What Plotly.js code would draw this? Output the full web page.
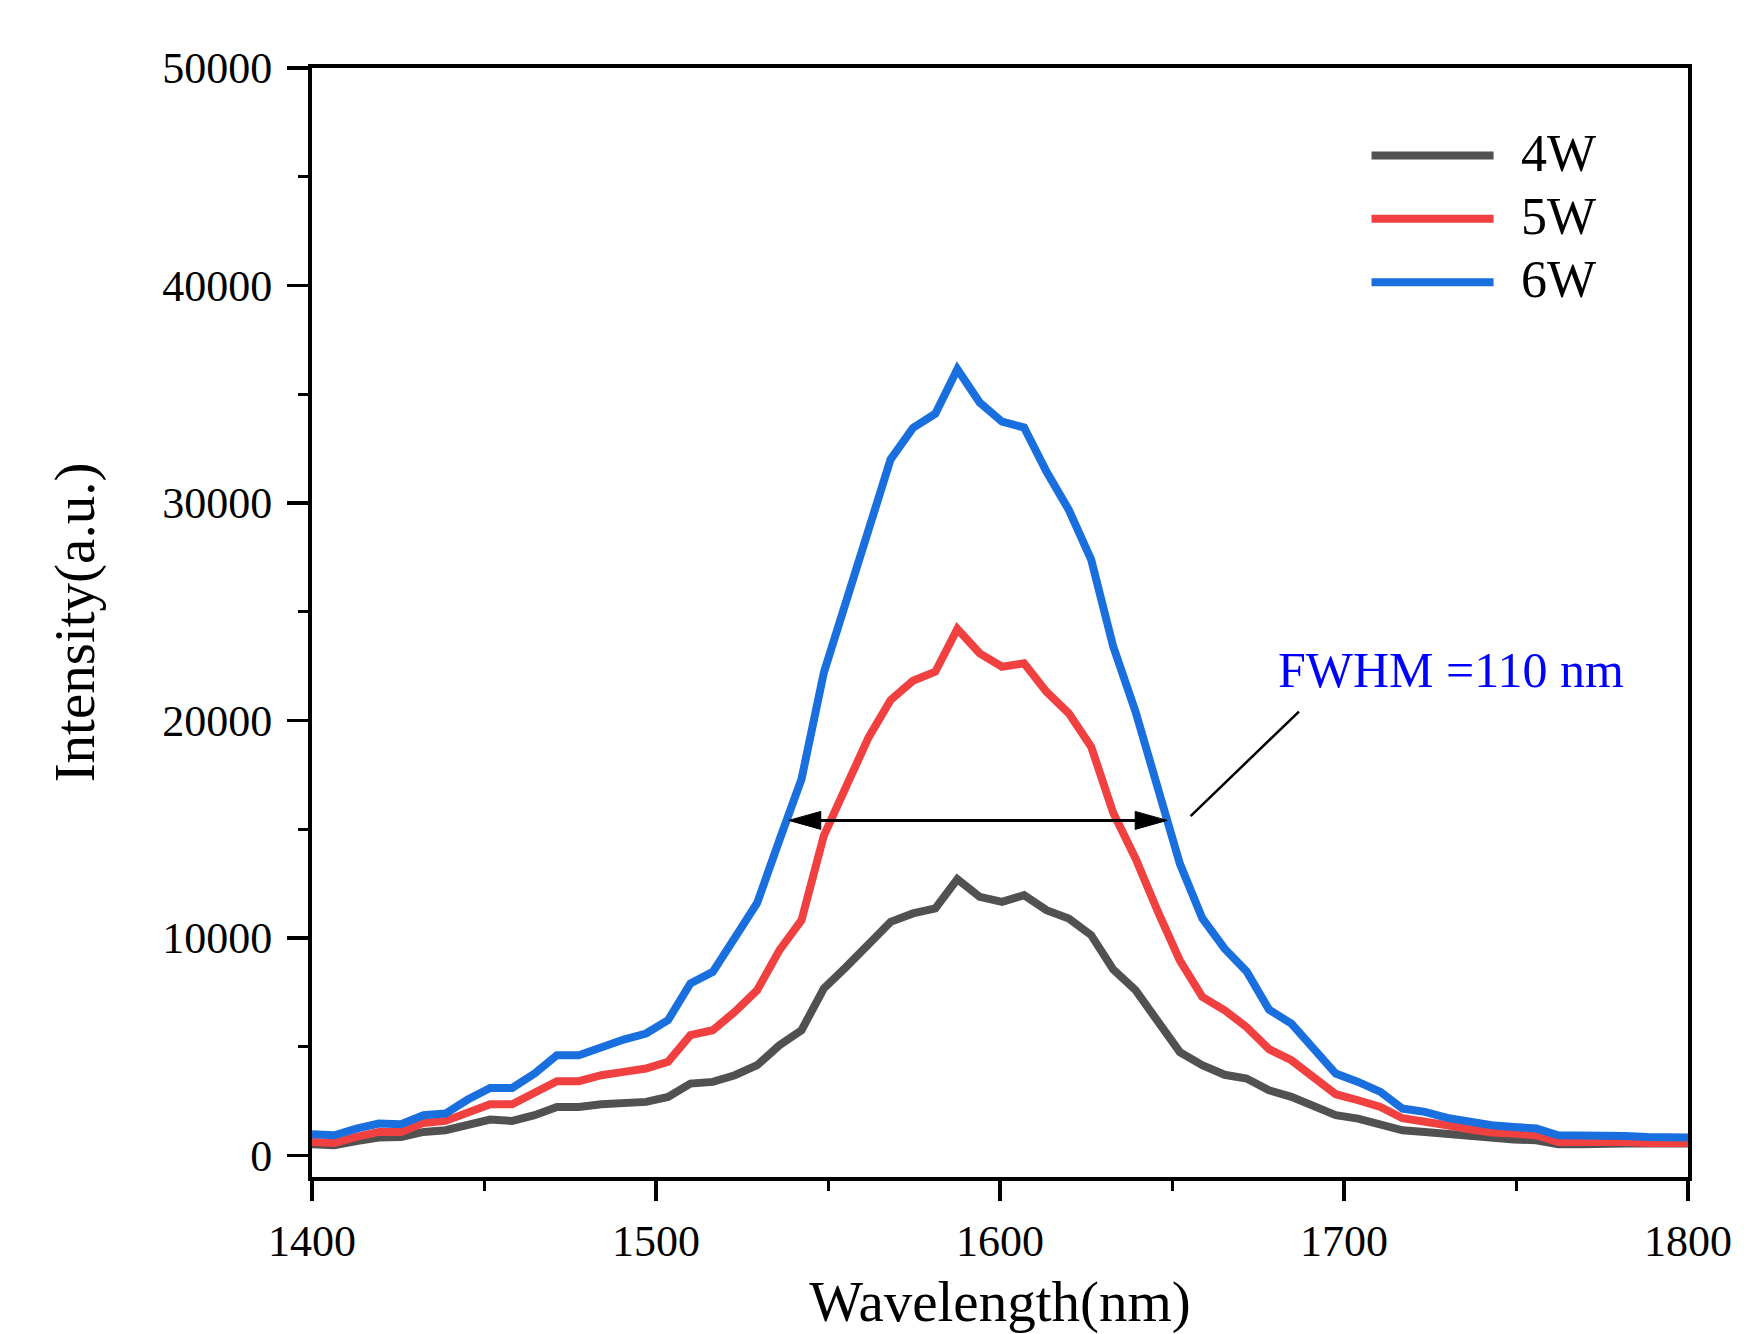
<!DOCTYPE html>
<html>
<head>
<meta charset="utf-8">
<script src="https://cdn.plot.ly/plotly-3.0.1.min.js"></script>
<style>
html, body { margin: 0; padding: 0; background: #ffffff; }
#chart { width: 1764px; height: 1334px; }
</style>
</head>
<body>
<div id="chart"></div>
<script>
// ---- data ----
const wavelength = [
  1400.0, 1406.5, 1412.9, 1419.4, 1425.9, 1432.4, 1438.8, 1445.3, 1451.8, 1458.2,
  1464.7, 1471.2, 1477.6, 1484.1, 1490.6, 1497.1, 1503.5, 1510.0, 1516.5, 1522.9,
  1529.4, 1535.9, 1542.3, 1548.8, 1555.3, 1561.8, 1568.2, 1574.7, 1581.2, 1587.6,
  1594.1, 1600.6, 1607.0, 1613.5, 1620.0, 1626.5, 1632.9, 1639.4, 1645.9, 1652.3,
  1658.8, 1665.3, 1671.7, 1678.2, 1684.7, 1691.2, 1697.6, 1704.1, 1710.6, 1717.0,
  1723.5, 1730.0, 1736.4, 1742.9, 1749.4, 1755.9, 1762.3, 1768.8, 1775.3, 1781.7,
  1788.2, 1794.7, 1800.0
];
const intensity4W = [
  506, 460, 658, 814, 843, 1073, 1150, 1426, 1641, 1580,
  1840, 2222, 2222, 2346, 2408, 2454, 2684, 3297, 3374, 3681,
  4141, 5061, 5751, 7670, 8663, 9662, 10734, 11120, 11350, 12700,
  11884, 11654, 11962, 11272, 10890, 10122, 8550, 7591, 6119, 4739,
  4141, 3700, 3529, 2991, 2684, 2300, 1840, 1688, 1458, 1150,
  1072, 966, 874, 768, 722, 690, 506, 506, 566, 538,
  538, 538, 538
];
const intensity5W = [
  613, 567, 843, 1073, 1073, 1488, 1580, 1994, 2346, 2346,
  2837, 3405, 3405, 3681, 3834, 3987, 4294, 5521, 5751, 6595,
  7592, 9432, 10812, 14700, 16964, 19218, 20934, 21822, 22237, 24200,
  23082, 22466, 22622, 21316, 20322, 18785, 15750, 13650, 11200, 8950,
  7283, 6671, 5889, 4877, 4371, 3589, 2807, 2530, 2222, 1702,
  1580, 1380, 1196, 1044, 998, 920, 612, 612, 690, 612,
  567, 567, 567
];
const intensity6W = [
  966, 920, 1227, 1457, 1426, 1840, 1917, 2562, 3097, 3097,
  3758, 4601, 4601, 4984, 5322, 5599, 6211, 7899, 8433, 10000,
  11600, 14500, 17300, 22200, 25500, 28800, 32000, 33450, 34100, 36150,
  34613, 33734, 33467, 31442, 29680, 27394, 23400, 20400, 16900, 13400,
  10900, 9500, 8450, 6702, 6050, 4950, 3758, 3374, 2914, 2147,
  1994, 1718, 1534, 1380, 1304, 1227, 920, 920, 966, 890,
  844, 830, 814
];
const seriesNames = ['4W', '5W', '6W'];
const seriesColors = ['#515151', '#F14040', '#1A6FDF'];
const xRange = [1400, 1800];
const yRange = [-1000, 50000];

// FWHM annotation (data units)
const fwhmLabel = 'FWHM =110 nm';
const fwhmY = 15400;
const fwhmLeft = 1538.6;
const fwhmRight = 1648.6;
const leaderStart = [1655.4, 15600];
const leaderEnd = [1686.9, 20400];
const fwhmTextPos = [1680.1, 22300];

// ---- build figure ----
const FONT = '"Liberation Serif", "DejaVu Serif", serif';
const seriesData = [intensity4W, intensity5W, intensity6W];

const traces = seriesData.map((ys, i) => ({
  type: 'scatter',
  mode: 'lines',
  x: wavelength,
  y: ys,
  name: seriesNames[i],
  line: { color: seriesColors[i], width: 8 },
  showlegend: false,
  hoverinfo: 'x+y+name'
}));

// custom legend (long line samples like the original)
const legendYs = [0.9211, 0.8641, 0.8069];
const legendShapes = seriesNames.map((n, i) => ({
  type: 'line', xref: 'paper', yref: 'paper',
  x0: 0.770, x1: 0.8587, y0: legendYs[i], y1: legendYs[i],
  line: { color: seriesColors[i], width: 8 }
}));
const legendTexts = seriesNames.map((n, i) => ({
  xref: 'paper', yref: 'paper', x: 0.8775, y: legendYs[i] + 0.002,
  xanchor: 'left', yanchor: 'middle', showarrow: false,
  text: n, font: { family: FONT, size: 52, color: '#000000' }
}));

const arrowShapes = [
  { type: 'line', xref: 'x', yref: 'y', x0: fwhmLeft + 5, x1: fwhmRight - 5, y0: fwhmY, y1: fwhmY,
    line: { color: '#000000', width: 3 } },
  { type: 'path', xref: 'x', yref: 'y', xsizemode: 'pixel', ysizemode: 'pixel',
    xanchor: fwhmLeft, yanchor: fwhmY, path: 'M0,0 L32,9 L32,-9 Z',
    fillcolor: '#000000', line: { color: '#000000', width: 1 } },
  { type: 'path', xref: 'x', yref: 'y', xsizemode: 'pixel', ysizemode: 'pixel',
    xanchor: fwhmRight, yanchor: fwhmY, path: 'M0,0 L-32,9 L-32,-9 Z',
    fillcolor: '#000000', line: { color: '#000000', width: 1 } },
  { type: 'line', xref: 'x', yref: 'y', x0: leaderStart[0], y0: leaderStart[1],
    x1: leaderEnd[0], y1: leaderEnd[1], line: { color: '#000000', width: 2.5 } }
];

const layout = {
  width: 1764,
  height: 1334,
  paper_bgcolor: '#ffffff',
  plot_bgcolor: '#ffffff',
  margin: { l: 312, r: 76, t: 68, b: 157, pad: 0 },
  font: { family: FONT, color: '#000000' },
  showlegend: false,
  xaxis: {
    range: xRange,
    tickmode: 'linear', tick0: 1400, dtick: 100,
    ticks: 'outside', ticklen: 20, tickwidth: 3.5, tickcolor: '#000000',
    ticklabelstandoff: 2,
    minor: { tickmode: 'linear', tick0: 1400, dtick: 50, ticks: 'outside', ticklen: 10, tickwidth: 3, tickcolor: '#000000', showgrid: false },
    showline: true, linewidth: 4, linecolor: '#000000', mirror: true,
    showgrid: false, zeroline: false,
    tickfont: { family: FONT, size: 44, color: '#000000' },
    title: { text: 'Wavelength(nm)', font: { family: FONT, size: 57, color: '#000000' }, standoff: 41 },
    automargin: false
  },
  yaxis: {
    range: yRange,
    tickmode: 'linear', tick0: 0, dtick: 10000,
    tickformat: 'd',
    ticks: 'outside', ticklen: 21, tickwidth: 3.5, tickcolor: '#000000',
    ticklabelstandoff: 6,
    minor: { tickmode: 'linear', tick0: 0, dtick: 5000, ticks: 'outside', ticklen: 10, tickwidth: 3, tickcolor: '#000000', showgrid: false },
    showline: true, linewidth: 4, linecolor: '#000000', mirror: true,
    showgrid: false, zeroline: false,
    tickfont: { family: FONT, size: 44, color: '#000000' },
    title: { text: 'Intensity(a.u.)', font: { family: FONT, size: 57, color: '#000000' }, standoff: 50 },
    automargin: false
  },
  shapes: legendShapes.concat(arrowShapes),
  annotations: legendTexts.concat([{
    xref: 'x', yref: 'y', x: fwhmTextPos[0], y: fwhmTextPos[1],
    xanchor: 'left', yanchor: 'middle', showarrow: false,
    text: fwhmLabel, font: { family: FONT, size: 50, color: '#0000FF' }
  }])
};

Plotly.newPlot('chart', traces, layout, { displayModeBar: false, staticPlot: true });
</script>
</body>
</html>
